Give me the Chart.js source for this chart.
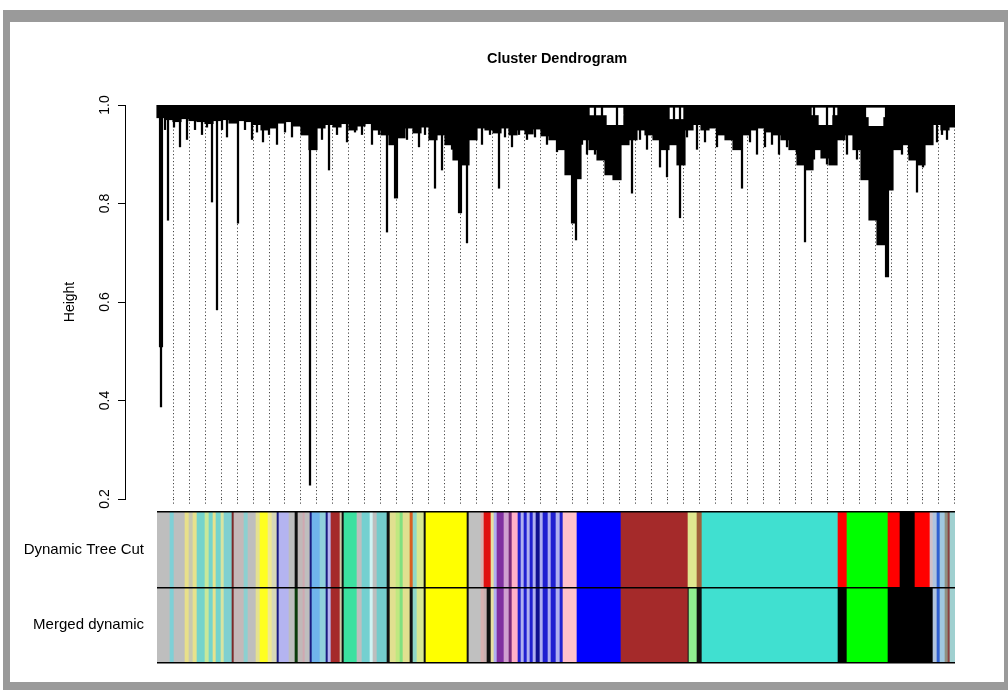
<!DOCTYPE html>
<html>
<head>
<script src="https://cdn.jsdelivr.net/npm/chart.js@4.4.0/dist/chart.umd.min.js"></script>
<style>
    body { margin: 0; width: 1008px; height: 690px; overflow: hidden; background: #fff; position: relative; }
    #frame { position: absolute; left: 3px; top: 10px; width: 1005px; height: 680px; background: #9a9a9a; }
    #inner { position: absolute; left: 7px; top: 12px; width: 994px; height: 660px; background: #fff; }
    #treeChart { position: absolute; left: 0; top: 0; }
    #colorChart { position: absolute; left: 0; top: 500px; }
</style>
</head>
<body>
<div id="frame"><div id="inner"></div></div>
<canvas id="treeChart" width="1114" height="520"></canvas>
<canvas id="colorChart" width="1008" height="180"></canvas>

<script>
    // gene order runs 0..798 along x
    const xEnd = 798;
    const heightTicks = [0.2, 0.4, 0.6, 0.8, 1.0];

    // lower edge of the dense top of the tree, one value per block of 8 genes
    const binWidth = 8;
    const massHeight = [
        0.974, 0.970, 0.966, 0.972, 0.968, 0.966, 0.962, 0.968, 0.970, 0.963,
        0.968, 0.966, 0.960, 0.949, 0.953, 0.963, 0.966, 0.957, 0.939, 0.909,
        0.953, 0.960, 0.955, 0.962, 0.949, 0.957, 0.962, 0.949, 0.939, 0.919,
        0.933, 0.953, 0.943, 0.955, 0.929, 0.939, 0.919, 0.888, 0.878, 0.929,
        0.953, 0.949, 0.943, 0.953, 0.939, 0.949, 0.941, 0.951, 0.937, 0.929,
        0.909, 0.858, 0.850, 0.929, 0.909, 0.888, 0.858, 0.848, 0.919, 0.929,
        0.949, 0.939, 0.929, 0.909, 0.919, 0.878, 0.949, 0.960, 0.949, 0.953,
        0.939, 0.929, 0.909, 0.939, 0.949, 0.953, 0.945, 0.939, 0.929, 0.909,
        0.878, 0.868, 0.909, 0.892, 0.878, 0.929, 0.939, 0.909, 0.848, 0.766,
        0.716, 0.827, 0.909, 0.919, 0.888, 0.878, 0.919, 0.960, 0.949, 0.955
    ];

    // single branches hanging below the dense top
    const thinSpikeX = [4, 8, 11, 17, 23, 30, 38, 45, 50, 55, 60, 65, 70, 81, 88, 95, 100, 106, 112, 120,
        128, 135, 145, 153, 165, 172, 180, 190, 198, 205, 215, 222, 230, 243, 250, 262, 268, 278, 285, 290,
        295, 310, 318, 325, 333, 342, 348, 355, 362, 370, 378, 390, 400, 408, 419, 425, 430, 438, 445, 460,
        475, 483, 490, 497, 503, 510, 517, 523, 530, 540, 548, 560, 570, 585, 593, 600, 608, 615, 622, 630,
        640, 648, 657, 670, 677, 690, 700, 708, 738, 745, 752, 760, 766, 772, 780, 785, 790];
    const thinSpikeH = [0.387, 0.950, 0.766, 0.955, 0.915, 0.930, 0.950, 0.940, 0.955, 0.803, 0.584, 0.950, 0.935, 0.760, 0.950, 0.930, 0.945, 0.925, 0.940, 0.920,
        0.945, 0.935, 0.950, 0.228, 0.930, 0.868, 0.940, 0.925, 0.945, 0.940, 0.920, 0.940, 0.742, 0.935, 0.930, 0.915, 0.940, 0.831, 0.868, 0.935,
        0.910, 0.720, 0.945, 0.920, 0.940, 0.831, 0.935, 0.915, 0.940, 0.930, 0.935, 0.920, 0.905, 0.930, 0.726, 0.920, 0.900, 0.900, 0.890, 0.900,
        0.821, 0.930, 0.910, 0.935, 0.874, 0.854, 0.920, 0.771, 0.935, 0.910, 0.925, 0.915, 0.930, 0.831, 0.925, 0.900, 0.915, 0.920, 0.900, 0.915,
        0.900, 0.722, 0.890, 0.880, 0.900, 0.900, 0.890, 0.930, 0.920, 0.900, 0.900, 0.823, 0.874, 0.935, 0.925, 0.940, 0.930];

    // bundled branches
    const thickSpikeX = [4, 239, 303, 416, 730];
    const thickSpikeH = [0.509, 0.811, 0.781, 0.760, 0.651];

    // open spaces inside the dense top
    const gapStart = [433, 450, 513, 655, 662, 708, 712];
    const gapEnd = [466, 466, 526, 680, 675, 729, 726];
    const gapLow = [0.980, 0.960, 0.972, 0.980, 0.960, 0.976, 0.958];
    const gapHigh = [0.994, 0.980, 0.994, 0.994, 0.980, 0.994, 0.976];

    // module colour bands
    const rowLabels = ["Dynamic Tree Cut", "Merged dynamic"];
    const bandStarts = [
        0, 13, 17, 28, 32, 36, 40, 48, 52, 56, 59, 64, 67, 75, 77, 87, 91, 99, 103, 111,
        115, 120, 122, 132, 138, 141, 146, 148, 153, 155, 163, 169, 171, 174, 183, 185, 187, 200, 205, 213,
        216, 220, 230, 233, 239, 243, 246, 253, 256, 260, 267, 269, 310, 312, 324, 327, 330, 334, 337, 340,
        347, 352, 355, 361, 364, 367, 370, 373, 376, 379, 383, 386, 391, 394, 399, 403, 406, 420, 464, 531,
        532, 540, 545, 681, 690, 731, 743, 758, 773, 776, 780, 783, 788, 791, 793
    ];
    const cutColors = [
        "#bebebe", "#7fd0d6", "#bebebe", "#e8e08a", "#c8c8b0", "#e6e28c", "#74d4cc", "#c8e89a", "#74d4cc", "#e6e28c",
        "#74d4cc", "#d8e4a0", "#80d0d0", "#7a2a2a", "#c4b8b8", "#8cd0d0", "#bebebe", "#e4e090", "#ffff20", "#f0e890",
        "#d8d8b8", "#1a1a80", "#b4b4f0", "#bebebe", "#101010", "#c0b8b8", "#d0a8b0", "#bebebe", "#1a1a80", "#70b4ec",
        "#90d0dc", "#1a1a80", "#b4b4f0", "#a52a2a", "#d0c8a8", "#101010", "#3ce0a0", "#bebebe", "#74d0d0", "#d0f4f4",
        "#bebebe", "#74cccc", "#101010", "#e0e090", "#c0e880", "#80e080", "#e0e090", "#d86020", "#90d8c8", "#d8e890",
        "#101010", "#ffff00", "#101010", "#c0c0c0", "#d8b0b0", "#e01010", "#e01010", "#e8e0a0", "#b0b0f0", "#8030a0",
        "#d0a0d0", "#7a2a7a", "#ffb0c8", "#2020d0", "#b0b0f0", "#2020d0", "#b0b0f0", "#2020d0", "#b0b0f0", "#101090",
        "#b0b0f0", "#2020d0", "#b0b0f0", "#2020d0", "#b0b0f0", "#2020d0", "#ffc0cb", "#0000ff", "#a52a2a", "#e0e890",
        "#e0e890", "#a0603a", "#40e0d0", "#ff0000", "#00ff00", "#ff0000", "#000000", "#ff0000", "#d0c0c8", "#b0c4de",
        "#3060d0", "#a0c8e0", "#909080", "#8b4040", "#a0d0d0"
    ];
    const mergedColors = [
        "#bebebe", "#7fd0d6", "#bebebe", "#e8e08a", "#c8c8b0", "#e6e28c", "#74d4cc", "#c8e89a", "#74d4cc", "#e6e28c",
        "#74d4cc", "#d8e4a0", "#80d0d0", "#7a2a2a", "#c4b8b8", "#8cd0d0", "#bebebe", "#e4e090", "#ffff20", "#f0e890",
        "#d8d8b8", "#1a1a80", "#b4b4f0", "#bebebe", "#0a3a0a", "#c0b8b8", "#d0a8b0", "#bebebe", "#1a1a80", "#70b4ec",
        "#90d0dc", "#1a1a80", "#b4b4f0", "#a52a2a", "#d0c8a8", "#101010", "#3ce0a0", "#bebebe", "#74d0d0", "#d0f4f4",
        "#bebebe", "#74cccc", "#101010", "#e0e090", "#c0e880", "#80e080", "#e0e090", "#101010", "#90d8c8", "#d8e890",
        "#101010", "#ffff00", "#101010", "#c0c0c0", "#d8b0b0", "#c8b0b0", "#101010", "#e8e0a0", "#b0b0f0", "#8030a0",
        "#d0a0d0", "#7a2a7a", "#ffb0c8", "#2020d0", "#b0b0f0", "#2020d0", "#b0b0f0", "#2020d0", "#b0b0f0", "#101090",
        "#b0b0f0", "#2020d0", "#b0b0f0", "#2020d0", "#b0b0f0", "#2020d0", "#ffc0cb", "#0000ff", "#a52a2a", "#101010",
        "#90ee90", "#101010", "#40e0d0", "#000000", "#00ff00", "#000000", "#000000", "#000000", "#000000", "#b0c4de",
        "#3060d0", "#a0c8e0", "#909080", "#8b4040", "#a0d0d0"
    ];

    const FONT = "'Liberation Sans', Arial, sans-serif";
    Chart.defaults.font.family = FONT;
    Chart.defaults.color = "#000";

    const leafStep = 15.95;

    const treeSets = [
        {
            data: thinSpikeX.map((x, i) => ({x: x, y: [thinSpikeH[i], 1.0]})),
            backgroundColor: "#000",
            barThickness: 1.6,
            order: 1
        },
        {
            data: thickSpikeX.map((x, i) => ({x: x, y: [thickSpikeH[i], 1.0]})),
            backgroundColor: "#000",
            barThickness: 3.5,
            order: 1
        },
        {
            data: massHeight.map((h, i) => ({x: binWidth / 2 + i * binWidth, y: [h, 1.0]})),
            backgroundColor: "#000",
            barThickness: binWidth + 0.5,
            order: 3
        }
    ];
    gapStart.forEach((s, i) => {
        treeSets.push({
            data: [{x: (s + gapEnd[i]) / 2, y: [gapLow[i], gapHigh[i]]}],
            backgroundColor: "#fff",
            barThickness: gapEnd[i] - s,
            order: 2
        });
    });

    new Chart("treeChart", {
        type: "bar",
        data: {datasets: treeSets},
        options: {
            responsive: false,
            animation: false,
            devicePixelRatio: 1,
            layout: {padding: {left: 0, right: 0, top: 0, bottom: 15}},
            datasets: {bar: {grouped: false, borderWidth: 0}},
            plugins: {
                legend: {display: false},
                tooltip: {enabled: false},
                title: {
                    display: true,
                    text: "Cluster Dendrogram",
                    color: "#000",
                    font: {size: 14.5, weight: "bold"},
                    padding: {top: 50, bottom: 37.6}
                }
            },
            scales: {
                x: {
                    type: "linear",
                    min: -32,
                    max: xEnd,
                    offset: false,
                    afterBuildTicks: (s) => {
                        const t = [];
                        for (let v = 16.3; v <= xEnd + 0.5; v += leafStep) t.push({value: v});
                        s.ticks = t;
                    },
                    afterFit: (s) => { s.height = 6; },
                    ticks: {display: false},
                    grid: {color: "#444", lineWidth: 1, offset: false, tickLength: 6, tickColor: "#444", tickBorderDash: [1.2, 2.3]},
                    border: {display: false, dash: [1.2, 2.3]}
                },
                y: {
                    type: "linear",
                    position: "left",
                    min: 0.2,
                    max: 1.0,
                    afterBuildTicks: (s) => { s.ticks = heightTicks.map(v => ({value: v})); },
                    afterFit: (s) => { s.width = 125; },
                    ticks: {
                        minRotation: 90,
                        maxRotation: 90,
                        crossAlign: "center",
                        padding: 3,
                        font: {size: 14},
                        callback: (v) => v.toFixed(1)
                    },
                    grid: {drawOnChartArea: false, tickLength: 7, color: "#000"},
                    border: {display: true, color: "#000", width: 1},
                    title: {display: true, text: "Height", font: {size: 14}, padding: {top: 62, bottom: 0}}
                },
                yRight: {
                    type: "linear",
                    position: "right",
                    display: true,
                    ticks: {display: false},
                    grid: {display: false},
                    border: {display: false},
                    afterFit: (s) => { s.width = 159; }
                }
            }
        }
    });

    function bandData(row) {
        return bandStarts.map((b, i) => ({x: [b, i + 1 < bandStarts.length ? bandStarts[i + 1] : xEnd], y: row}));
    }

    new Chart("colorChart", {
        type: "bar",
        data: {
            labels: rowLabels,
            datasets: [
                {data: bandData(rowLabels[0]), backgroundColor: cutColors},
                {data: bandData(rowLabels[1]), backgroundColor: mergedColors}
            ]
        },
        options: {
            indexAxis: "y",
            responsive: false,
            animation: false,
            devicePixelRatio: 1,
            layout: {padding: {left: 0, right: 53, top: 12, bottom: 17}},
            datasets: {bar: {grouped: false, barPercentage: 1, categoryPercentage: 1, borderWidth: 0}},
            plugins: {legend: {display: false}, tooltip: {enabled: false}},
            scales: {
                x: {type: "linear", min: 0, max: xEnd, display: false},
                y: {
                    type: "category",
                    position: "left",
                    afterFit: (s) => {
                        s.width = 157;
                        s.paddingTop = 0;
                        s.paddingBottom = 0;
                    },
                    ticks: {padding: 13, font: {size: 15}, color: "#000"},
                    grid: {color: "#000", lineWidth: 1.5, drawTicks: false, offset: true, z: 1},
                    border: {display: false}
                }
            }
        }
    });
</script>
</body>
</html>
